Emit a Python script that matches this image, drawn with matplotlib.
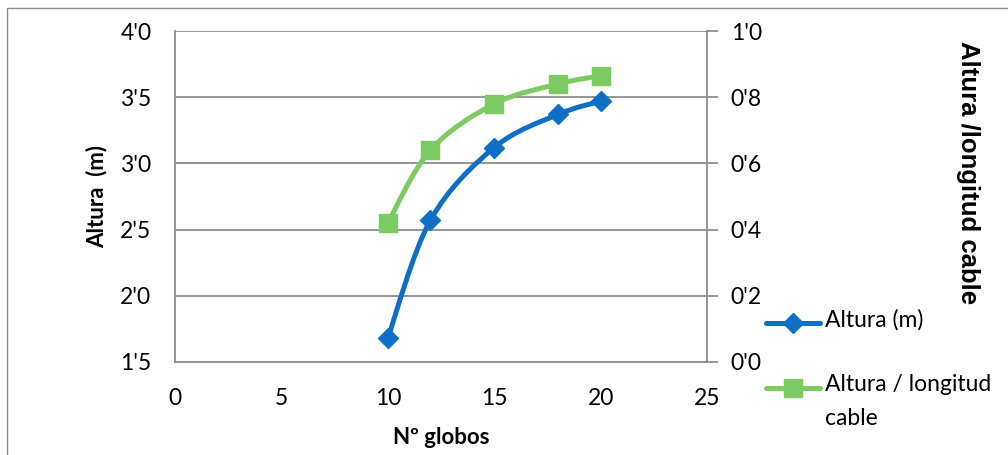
import numpy as np
import matplotlib
matplotlib.use("Agg")
import matplotlib.pyplot as plt
from matplotlib.path import Path
from matplotlib.patches import PathPatch, Rectangle
from matplotlib.lines import Line2D

# Data
globos = [10, 12, 15, 18, 20]
altura_m = [1.68, 2.57, 3.12, 3.37, 3.47]
altura_longitud = [0.42, 0.64, 0.78, 0.84, 0.865]

left_ticks = [1.5, 2.0, 2.5, 3.0, 3.5, 4.0]
right_ticks = [0.0, 0.2, 0.4, 0.6, 0.8, 1.0]
x_ticks = [0, 5, 10, 15, 20, 25]

BLUE = "#0F6EC6"
GREEN = "#7CCB62"
GRID = "#8C8C8C"
FS = 16.5

plt.rcParams["font.family"] = ["Lato", "DejaVu Sans"]

W, H = 1008, 455
fig = plt.figure(figsize=(W / 100, H / 100), dpi=100)


def fx(px):
    return px / W


def fy(py):
    return 1 - py / H


# plot area in pixels
x0, x1, y0, y1 = 175, 707, 31, 362
ax = fig.add_axes([fx(x0), fy(y1), (x1 - x0) / W, (y1 - y0) / H])
ax2 = ax.twinx()

# outer chart border
fig.patches.append(Rectangle((fx(7), -0.1), 1.2, fy(8) + 0.1,
                             transform=fig.transFigure, fill=False,
                             edgecolor="#8C8C8C", linewidth=1.0))


def fmt(v):
    return f"{v:.1f}".replace(".", "'")


def smooth_path(xs, ys, ax_, color, lw):
    """Smoothed line: cubic Bezier through the points (Catmull-Rom)."""
    t = ax_.transData
    pts = t.transform(np.column_stack([xs, ys]))
    n = len(pts)
    verts = [pts[0]]
    codes = [Path.MOVETO]
    for i in range(n - 1):
        p0 = pts[i - 1] if i > 0 else pts[i]
        p1 = pts[i]
        p2 = pts[i + 1]
        p3 = pts[i + 2] if i + 2 < n else pts[i + 1]
        c1 = p1 + (p2 - p0) / 6.0
        c2 = p2 - (p3 - p1) / 6.0
        verts += [c1, c2, p2]
        codes += [Path.CURVE4] * 3
    verts = t.inverted().transform(np.array(verts))
    patch = PathPatch(Path(verts, codes), facecolor="none", edgecolor=color,
                      linewidth=lw, capstyle="round", joinstyle="round",
                      zorder=3)
    ax_.add_patch(patch)


ax.set_xlim(0, 25)
ax.set_ylim(1.5, 4.0)
ax2.set_ylim(0.0, 1.0)

smooth_path(globos, altura_m, ax, BLUE, 3.6)
ax.plot(globos, altura_m, linestyle="none", marker="D", markersize=10.5,
        color=BLUE, zorder=4)

smooth_path(globos, altura_longitud, ax2, GREEN, 3.6)
ax2.plot(globos, altura_longitud, linestyle="none", marker="s",
         markersize=13.5, color=GREEN, zorder=4)

ax.set_xticks(x_ticks)
ax.set_xticklabels([str(v) for v in x_ticks])
ax.set_yticks(left_ticks)
ax.set_yticklabels([fmt(v) for v in left_ticks])
ax2.set_yticks(right_ticks)
ax2.set_yticklabels([fmt(v) for v in right_ticks])

ax.grid(axis="y", color=GRID, linewidth=1.3)
ax.set_axisbelow(True)

for a in (ax, ax2):
    for s in a.spines.values():
        s.set_visible(False)
ax.spines["left"].set_visible(True)
ax.spines["bottom"].set_visible(True)
ax2.spines["right"].set_visible(True)
for s in (ax.spines["left"], ax.spines["bottom"], ax2.spines["right"]):
    s.set_color(GRID)
    s.set_linewidth(1.3)

ax.tick_params(axis="y", length=0, labelsize=FS, pad=17)
ax.tick_params(axis="x", length=0, labelsize=FS, pad=19)
ax2.tick_params(axis="y", length=8, width=1.3, color=GRID, labelsize=FS,
                pad=9, direction="out")

ax.set_xlabel("Nº globos", fontsize=16, fontweight="bold", labelpad=13)
ax.set_ylabel("Altura  (m)", fontsize=16, fontweight="bold", labelpad=9)
fig.text(fx(968), fy(173), "Altura /longitud cable", rotation=-90,
         fontsize=18.5, fontweight="bold", ha="center", va="center",
         family=["Liberation Sans", "DejaVu Sans"])

# legend keys and labels
legend_items = [
    (BLUE, "D", 10.5, 323, "Altura (m)"),
    (GREEN, "s", 13.5, 388, "Altura / longitud\ncable"),
]
for color, mk, ms, ypx, label in legend_items:
    fig.add_artist(Line2D([fx(766), fx(820)], [fy(ypx), fy(ypx)],
                          transform=fig.transFigure, color=color,
                          linewidth=3.6, solid_capstyle="round"))
    fig.add_artist(Line2D([fx(793)], [fy(ypx)], transform=fig.transFigure,
                          color=color, marker=mk, markersize=ms,
                          linestyle="none"))
    fig.text(fx(825), fy(ypx - 14), label, fontsize=FS, ha="left", va="top",
             linespacing=1.75, transform=fig.transFigure)

fig.savefig("out.png", dpi=100)
